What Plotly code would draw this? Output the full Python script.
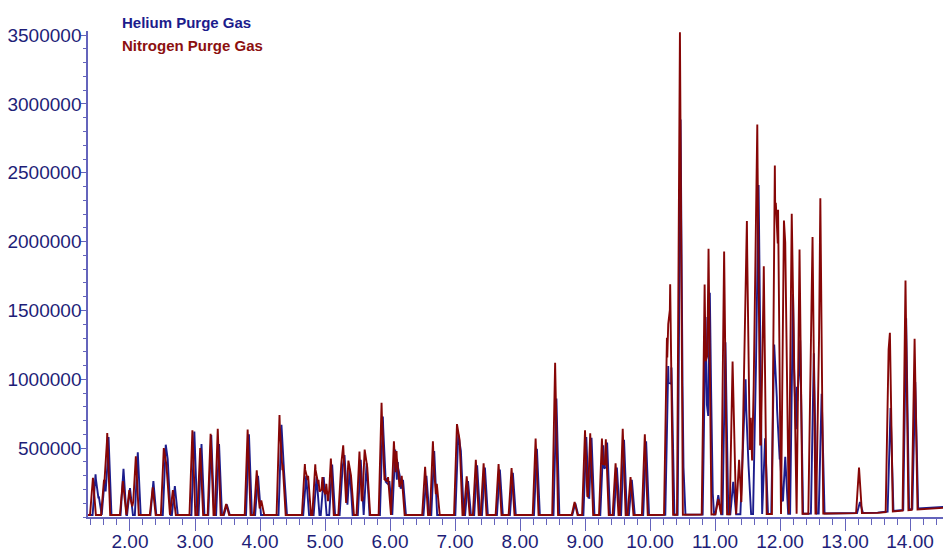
import numpy as np
import plotly.graph_objects as go

# ---- data (retention time in min, peak height above baseline) ----
n2_times = [1.43, 1.60, 1.65, 1.89, 1.99, 2.05, 2.09, 2.35, 2.52, 2.56, 2.66, 2.96, 3.08,
            3.24, 3.35, 3.48, 3.81, 3.95, 4.02, 4.30, 4.35, 4.69, 4.74, 4.85, 4.90, 4.96,
            5.02, 5.09, 5.25, 5.28, 5.36, 5.40, 5.53, 5.61, 5.65, 5.87, 5.92, 5.97, 6.06,
            6.10, 6.13, 6.18, 6.54, 6.66, 6.72, 7.03, 7.07, 7.18, 7.32, 7.44, 7.67, 7.87,
            8.24, 8.54, 8.84, 9.00, 9.08, 9.26, 9.32, 9.47, 9.58, 9.70, 9.92, 10.26, 10.28,
            10.31, 10.46, 10.84, 10.88, 10.90, 11.05, 11.14, 11.27, 11.37, 11.45, 11.49,
            11.55, 11.615, 11.65, 11.70, 11.75, 11.92, 11.935, 11.97, 12.06, 12.08, 12.18,
            12.21, 12.30, 12.48, 12.50, 12.60, 12.62, 13.215, 13.67, 13.69, 13.93, 14.07]
n2_heights = [270000, 255000, 595000, 245000, 180000, 95000, 425000, 200000, 485000, 365000,
              180000, 615000, 485000, 590000, 625000, 80000, 620000, 325000, 105000, 725000,
              365000, 370000, 285000, 368000, 255000, 275000, 225000, 410000, 370000, 505000,
              395000, 285000, 460000, 475000, 345000, 815000, 285000, 275000, 535000, 465000,
              305000, 285000, 350000, 535000, 225000, 660000, 545000, 280000, 400000, 375000,
              370000, 340000, 555000, 1105000, 95000, 615000, 593000, 555000, 550000, 375000,
              625000, 275000, 585000, 1285000, 1385000, 1675000, 3505000, 1670000, 1150000,
              1930000, 110000, 1910000, 1110000, 395000, 1120000, 2130000, 700000, 1680000,
              2830000, 560000, 1800000, 2530000, 2260000, 2210000, 2130000, 1970000, 2180000,
              1300000, 1920000, 1610000, 2010000, 1270000, 2290000, 330000, 1180000, 1300000,
              1670000, 1240000]

he_times = [1.47, 1.52, 1.61, 1.67, 1.90, 2.00, 2.12, 2.36, 2.55, 2.58, 2.69, 2.99, 3.10,
            3.25, 3.37, 3.49, 3.83, 3.97, 4.33, 4.37, 4.71, 4.87, 4.98, 5.11, 5.27, 5.30,
            5.38, 5.55, 5.64, 5.89, 5.94, 5.99, 6.08, 6.12, 6.15, 6.20, 6.56, 6.68, 7.05,
            7.09, 7.20, 7.34, 7.46, 7.69, 7.89, 8.26, 8.56, 8.85, 9.02, 9.10, 9.28, 9.34,
            9.49, 9.60, 9.72, 9.94, 10.28, 10.33, 10.47, 10.50, 10.855, 10.92, 10.94, 11.05,
            11.16, 11.28, 11.435, 11.47, 11.51, 11.63, 11.67, 11.77, 11.91, 11.95, 12.00,
            12.08, 12.20, 12.26, 12.31, 12.52, 12.64, 13.23, 13.70, 13.94, 14.08]
he_heights = [295000, 135000, 255000, 565000, 335000, 195000, 455000, 245000, 510000, 405000,
              210000, 605000, 515000, 580000, 515000, 75000, 585000, 285000, 655000, 315000,
              285000, 275000, 275000, 365000, 345000, 435000, 335000, 400000, 375000, 715000,
              265000, 245000, 475000, 385000, 285000, 255000, 285000, 465000, 585000, 465000,
              245000, 360000, 345000, 330000, 305000, 480000, 845000, 85000, 565000, 560000,
              505000, 525000, 345000, 545000, 255000, 535000, 1080000, 1070000, 2870000,
              510000, 1435000, 1610000, 345000, 140000, 1250000, 235000, 540000, 980000,
              400000, 1080000, 2390000, 550000, 1230000, 850000, 445000, 415000, 1595000,
              922000, 1260000, 1165000, 870000, 80000, 750000, 1390000, 920000]

# drifting baseline (time, counts)
base_times = [1.35, 10.0, 12.7, 13.5, 14.1, 14.63]
base_n2 = [15000, 15000, 25000, 30000, 55000, 70000]
base_he = [15000, 15000, 25000, 32000, 62000, 76000]

y_ticks = [500000, 1000000, 1500000, 2000000, 2500000, 3000000, 3500000]
x_ticks = [2, 3, 4, 5, 6, 7, 8, 9, 10, 11, 12, 13, 14]

HALF = 0.045  # half base width of a drawn peak (min)


def trace_xy(times, heights, btimes, bvals):
    t = np.asarray(times, float)
    h = np.asarray(heights, float)
    bt = np.asarray(btimes, float)
    bv = np.asarray(bvals, float)
    xs = np.unique(np.concatenate([t - HALF, t, t + HALF, bt]))
    xs = xs[(xs >= bt[0]) & (xs <= bt[-1])]
    base = np.interp(xs, bt, bv)
    peaks = np.zeros_like(xs)
    for ti, hi in zip(t, h):
        peaks = np.maximum(peaks, hi * np.clip(1 - np.abs(xs - ti) / HALF, 0, None))
    return xs, base + peaks


hx, hy = trace_xy(he_times, he_heights, base_times, base_he)
nx, ny = trace_xy(n2_times, n2_heights, base_times, base_n2)

BLUE = "#1c1c8c"
RED = "#860606"
AX = "#6464bc"
TXT = "#1e1e78"
TICKFONT = dict(family="Liberation Sans, Arial", size=19, color=TXT)

fig = go.Figure()
fig.add_trace(go.Scatter(x=hx, y=hy, mode="lines", line=dict(color=BLUE, width=1.9),
                         name="Helium Purge Gas", showlegend=False))
fig.add_trace(go.Scatter(x=nx, y=ny, mode="lines", line=dict(color=RED, width=1.9),
                         name="Nitrogen Purge Gas", showlegend=False))

# page body has an 8px margin, so the figure is sized to the visible 943x544 area
fig.update_layout(
    width=943, height=544,
    margin=dict(l=80, r=0, t=23, b=35),
    paper_bgcolor="white", plot_bgcolor="white",
    xaxis=dict(range=[1.354, 14.63], tickmode="array", tickvals=x_ticks,
               ticktext=[f"{v:.2f}" for v in x_ticks], automargin=False,
               showgrid=False, zeroline=False, showline=True, linecolor=AX, linewidth=1.5,
               ticks="outside", ticklen=12, tickwidth=1.3, tickcolor=AX,
               ticklabelstandoff=-6,
               minor=dict(tickmode="linear", tick0=0, dtick=0.2, ticks="outside",
                          ticklen=6, tickwidth=1.2, tickcolor=AX, showgrid=False),
               tickfont=TICKFONT),
    yaxis=dict(range=[0, 3530000], tickmode="array", tickvals=y_ticks,
               ticktext=[str(v) for v in y_ticks], automargin=False,
               showgrid=False, zeroline=False, showline=True, linecolor=AX, linewidth=1.5,
               ticks="outside", ticklen=5, tickwidth=1.2, tickcolor=AX,
               ticklabelstandoff=-4,
               minor=dict(tickmode="linear", tick0=0, dtick=100000, ticks="outside",
                          ticklen=3, tickwidth=1, tickcolor=AX, showgrid=False),
               tickfont=TICKFONT),
    annotations=[
        dict(text="<b>Helium Purge Gas</b>", xref="paper", yref="paper", x=0.037, y=1.0185,
             xanchor="left", yanchor="middle", showarrow=False,
             font=dict(family="Liberation Sans, Arial", size=15, color="#1c1c8c")),
        dict(text="<b>Nitrogen Purge Gas</b>", xref="paper", yref="paper", x=0.037, y=0.971,
             xanchor="left", yanchor="middle", showarrow=False,
             font=dict(family="Liberation Sans, Arial", size=15, color="#8c1010")),
    ],
)

fig.write_html("out.html")
